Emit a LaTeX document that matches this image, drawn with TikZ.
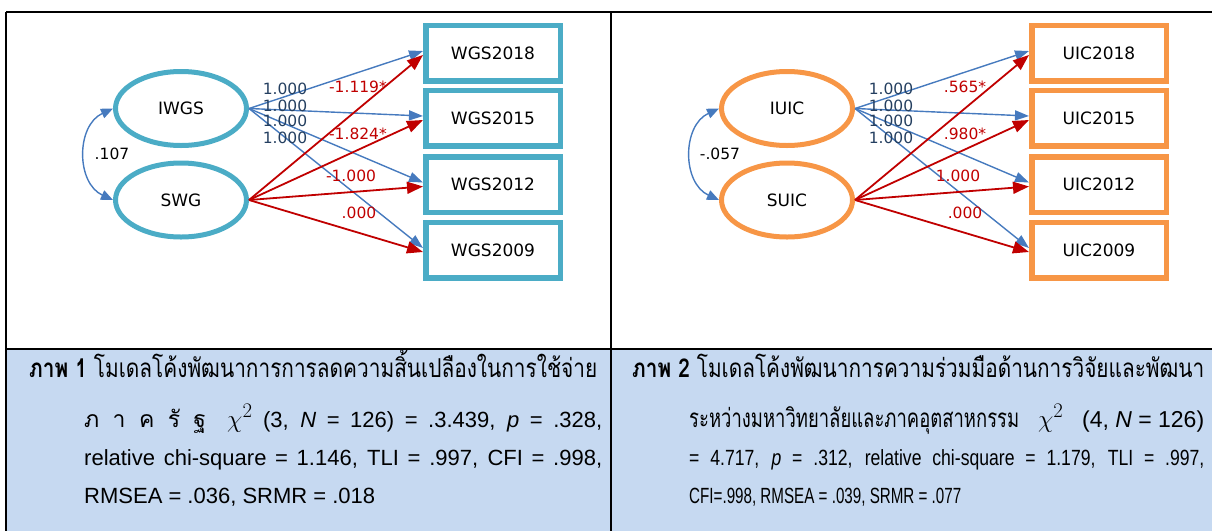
\documentclass[tikz,border=0pt]{standalone}
\usepackage{fontspec}
\usepackage{graphicx}
\setmainfont{Liberation Sans}
\newfontfamily\dv{DejaVu Sans}
\newfontfamily\thaifont[Script=Thai]{Loma}
\usetikzlibrary{shapes.geometric,arrows.meta}
\definecolor{tealc}{RGB}{75,172,198}
\definecolor{orangec}{RGB}{247,150,70}
\definecolor{bluearr}{RGB}{70,122,190}
\definecolor{redarr}{RGB}{192,0,0}
\definecolor{navyc}{RGB}{36,63,96}
\definecolor{capbg}{RGB}{198,217,241}
\tikzset{
  latent/.style={ellipse, draw=#1, line width=5pt, minimum width=131pt, minimum height=74pt, inner sep=0pt, font=\dv\fontsize{17}{20}\selectfont},
  observed/.style={rectangle, draw=#1, line width=5.5pt, minimum width=134.5pt, minimum height=55.5pt, inner sep=0pt, font=\dv\fontsize{17}{20}\selectfont},
  loadarrow/.style={draw=bluearr, line width=1.4pt, -{Triangle[length=14pt,width=10pt]}},
  slopearrow/.style={draw=redarr, line width=1.8pt, -{Triangle[length=16pt,width=12pt]}},
  covarrow/.style={draw=bluearr, line width=1.4pt, {Triangle[length=12pt,width=10pt]}-{Triangle[length=12pt,width=10pt]}},
  loadlab/.style={font=\dv\fontsize{15.5}{15.5}\selectfont, text=navyc, inner sep=0pt},
  slopelab/.style={font=\dv\fontsize{15.5}{15.5}\selectfont, text=redarr, inner sep=0pt},
  covlab/.style={font=\dv\fontsize{15.5}{15.5}\selectfont, text=black, inner sep=0pt},
  capline/.style={font=\fontsize{22}{26}\selectfont, inner sep=0pt, anchor=base west},
  rule/.style={draw=black, line width=2.5pt},
}
\begin{document}
\begin{tikzpicture}[x=1pt,y=-1pt]
\useasboundingbox (0,0) rectangle (1212,531);
% caption background
\fill[capbg] (6,349) rectangle (1212,531);
% table rules
\draw[rule] (6,12) -- (1212,12);
\draw[rule] (6,349) -- (1212,349);
\draw[rule] (6,12) -- (6,531);
\draw[rule] (611,12) -- (611,531);

% ---------- left model ----------
\node[latent=tealc] (IWGS) at (181,108.5) {IWGS};
\node[latent=tealc] (SWG) at (181,200) {SWG};
\node[observed=tealc] (w18) at (493,53) {WGS2018};
\node[observed=tealc] (w15) at (493,118) {WGS2015};
\node[observed=tealc] (w12) at (493,184.5) {WGS2012};
\node[observed=tealc] (w09) at (493,250) {WGS2009};

\draw[covarrow] (IWGS.west) .. controls +(-37,17) and +(-37,-17) .. (SWG.west);
\foreach \b in {w18,w15,w12,w09}{
  \draw[loadarrow] (IWGS.east) -- ([yshift=2pt]\b.west);
}
\foreach \b in {w18,w15,w12,w09}{
  \draw[slopearrow] (SWG.east) -- ([yshift=-2pt]\b.west);
}
\node[loadlab] (l1a) at (285,89) {1.000};
\node[loadlab] (l1b) at (285,106) {1.000};
\node[loadlab] (l1c) at (285,121) {1.000};
\node[loadlab] (l1d) at (285,138) {1.000};
\node[covlab] (c1) at (112,154) {.107};
\node[slopelab] (s1a) at (358,87) {-1.119*};
\node[slopelab] (s1b) at (358,134) {-1.824*};
\node[slopelab] (s1c) at (351,176) {-1.000};
\node[slopelab] (s1d) at (359,213) {.000};

% ---------- right model ----------
\node[latent=orangec] (IUIC) at (787,108.5) {IUIC};
\node[latent=orangec] (SUIC) at (787,200) {SUIC};
\node[observed=orangec] (u18) at (1099,53) {UIC2018};
\node[observed=orangec] (u15) at (1099,118) {UIC2015};
\node[observed=orangec] (u12) at (1099,184.5) {UIC2012};
\node[observed=orangec] (u09) at (1099,250) {UIC2009};

\draw[covarrow] (IUIC.west) .. controls +(-37,17) and +(-37,-17) .. (SUIC.west);
\foreach \b in {u18,u15,u12,u09}{
  \draw[loadarrow] (IUIC.east) -- ([yshift=2pt]\b.west);
}
\foreach \b in {u18,u15,u12,u09}{
  \draw[slopearrow] (SUIC.east) -- ([yshift=-2pt]\b.west);
}
\node[loadlab] (l2a) at (891,89) {1.000};
\node[loadlab] (l2b) at (891,106) {1.000};
\node[loadlab] (l2c) at (891,121) {1.000};
\node[loadlab] (l2d) at (891,138) {1.000};
\node[covlab] (c2) at (720,154) {-.057};
\node[slopelab] (s2a) at (965,87) {.565*};
\node[slopelab] (s2b) at (965,134) {.980*};
\node[slopelab] (s2c) at (958,176) {1.000};
\node[slopelab] (s2d) at (965,213) {.000};

% ---------- captions ----------
\node[capline] (cl1) at (29,377) {\resizebox{568pt}{\height}{\thaifont\fontsize{26}{30}\selectfont\textbf{ภาพ 1} โมเดลโค้งพัฒนาการการลดความสิ้นเปลืองในการใช้จ่าย}};
\node[capline] (cl2) at (84,427) {\makebox[518pt][s]{{\thaifont\fontsize{23}{28}\selectfont ภ\ า\ ค\ รั\ ฐ}\ \ {\fontsize{28}{28}\selectfont$\chi^{2}$}\ (3, \textit{N} = 126) = .3.439, \textit{p} = .328,}};
\node[capline] (cl3) at (84,465) {\makebox[518pt][s]{relative chi-square = 1.146, TLI = .997, CFI = .998,}};
\node[capline] (cl4) at (84,503) {RMSEA = .036, SRMR = .018};

\node[capline] (cr1) at (632,377) {\resizebox{572pt}{\height}{\thaifont\fontsize{26}{30}\selectfont\textbf{ภาพ 2} โมเดลโค้งพัฒนาการความร่วมมือด้านการวิจัยและพัฒนา}};
\node[capline] (cr2) at (689,427) {\makebox[515pt][s]{\resizebox{330pt}{\height}{\thaifont\fontsize{26}{30}\selectfont ระหว่างมหาวิทยาลัยและภาคอุตสาหกรรม}\ {\fontsize{28}{28}\selectfont$\chi^{2}$}\ \mbox{\fontsize{23}{26}\selectfont(4, \textit{N} = 126)}}};
\node[capline] (cr3) at (689,465) {\scalebox{0.8}[1]{\makebox[644pt][s]{= 4.717, \textit{p} = .312, relative chi-square = 1.179, TLI = .997,}}};
\node[capline] (cr4) at (689,503) {\scalebox{0.69}[1]{CFI=.998, RMSEA = .039, SRMR = .077}};
\end{tikzpicture}
\end{document}
